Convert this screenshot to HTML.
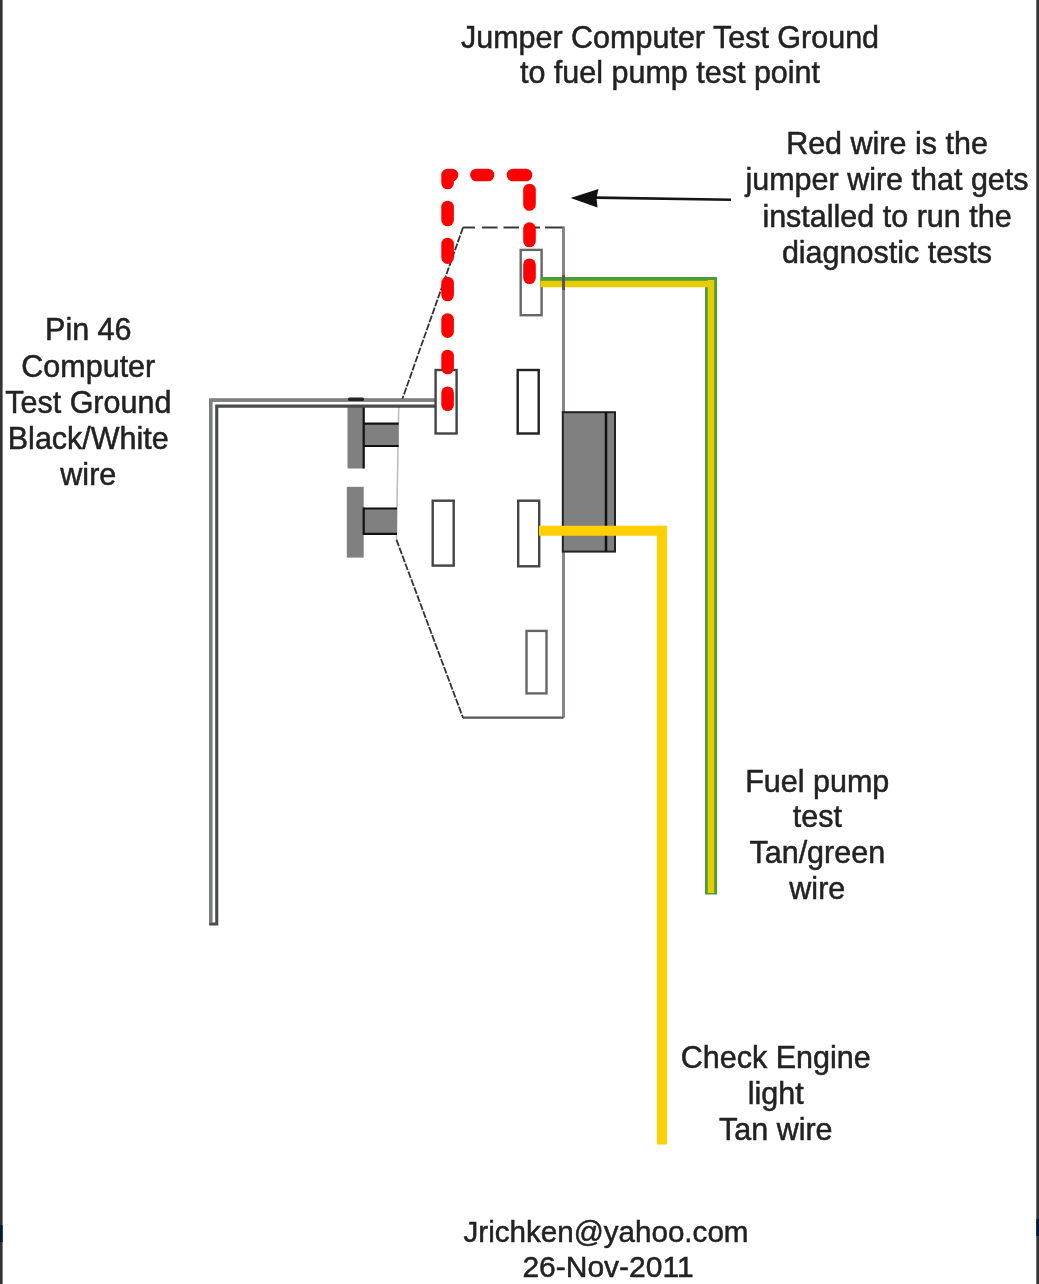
<!DOCTYPE html>
<html><head><meta charset="utf-8">
<style>
html,body{margin:0;padding:0;background:#fff;}
body{width:1039px;height:1284px;overflow:hidden;position:relative;}
svg{position:absolute;left:0;top:0;}
text{font-family:"Liberation Sans",sans-serif;font-size:30.5px;fill:#222;stroke:#222;stroke-width:0.5px;}
svg{filter:blur(0.6px);}
</style></head>
<body>
<svg width="1039" height="1284" viewBox="0 0 1039 1284">
<!-- frame borders -->
<rect x="0" y="0" width="2.6" height="1284" fill="#333"/>
<rect x="1036.3" y="0" width="2.7" height="1284" fill="#333"/>
<rect x="0" y="1225" width="2.6" height="17" fill="#001a3a"/>
<rect x="1036.3" y="1219" width="2.7" height="17" fill="#001a3a"/>


<!-- panel outline -->
<path d="M463 227.5 H564.5" fill="none" stroke="#3a3a3a" stroke-width="2" stroke-dasharray="12 7 15.5 6 15.5 6 15 5 20 100"/>
<path d="M563.5 227.5 V717.7" fill="none" stroke="#8a858a" stroke-width="3"/>
<path d="M463 717.7 H563.5" fill="none" stroke="#555" stroke-width="2.2"/>
<path d="M463 227.5 L402 400" fill="none" stroke="#333" stroke-width="1.8" stroke-dasharray="7 1.5"/>
<path d="M398.7 407 L396.4 539.6" fill="none" stroke="#bbb" stroke-width="1.5"/>
<path d="M396.4 539.6 L463 717.7" fill="none" stroke="#333" stroke-width="1.8" stroke-dasharray="7 1.5"/>

<!-- connectors -->
<g fill="#808080" stroke="#222" stroke-width="0">
<rect x="347.5" y="402" width="16.2" height="66.5"/>
<rect x="363.7" y="423.7" width="35" height="22.3"/>
<rect x="346.8" y="486.8" width="16.9" height="70.8"/>
<rect x="363.7" y="508.5" width="33.3" height="25.3"/>
</g>
<g stroke="#111" stroke-width="2.2" fill="none">
<path d="M363.7 404 V468.5"/>
<path d="M363.7 423.7 H398.7 M363.7 446 H398.7"/>
<path d="M363.7 507.5 V534.8"/>
<path d="M363.7 508.5 H397 M363.7 533.8 H397"/>
</g>

<!-- black/white wire -->
<path d="M436 403.2 H213.7 V925.5" fill="none" stroke="#4a4a4a" stroke-width="9.2"/>
<path d="M436 403 H213.8 V922.5" fill="none" stroke="#fff" stroke-width="2.8"/>
<path d="M436 400.2 H210.6 V923" fill="none" stroke="#7c807c" stroke-width="3" stroke-linejoin="round"/>

<rect x="348" y="397.5" width="16" height="3.5" rx="1.5" fill="#222"/>
<!-- dark box -->
<rect x="562.8" y="412.2" width="52.2" height="139.4" fill="#808080" stroke="#222" stroke-width="2"/>
<path d="M606 412.2 V551.6" stroke="#111" stroke-width="2.5"/>

<!-- pins -->
<g fill="#fff" stroke="#444" stroke-width="2.4">
<rect x="520.7" y="249.9" width="20.9" height="65.3" stroke="#666"/>
<rect x="435.6" y="370" width="21" height="63.5"/>
<rect x="517.7" y="370" width="21" height="63.5" stroke="#222"/>
<rect x="432.7" y="500.7" width="21" height="64.9"/>
<rect x="518.2" y="500.7" width="21" height="65.6"/>
<rect x="526.5" y="630.9" width="20" height="62.5" stroke="#666"/>
</g>

<!-- green/yellow wire -->
<path d="M711 277 V894.6" fill="none" stroke="#4a9d3a" stroke-width="12"/>
<path d="M540.5 281.7 H717" fill="none" stroke="#4a9d3a" stroke-width="9.4"/>
<path d="M540.5 284 H714 M711 280 V893" fill="none" stroke="#e6cc00" stroke-width="6.5"/>

<path d="M563.5 275 V290" fill="none" stroke="#5a555a" stroke-width="3"/>
<!-- yellow wire -->
<path d="M539 530.8 H662 V1144.6" fill="none" stroke="#ffcf00" stroke-width="10"/>

<!-- red dashed jumper -->
<g stroke="#f00" stroke-width="12.6" stroke-linecap="round" fill="none">
<path d="M447.6 392.7 V404.8"/>
<path d="M447.6 356 V368"/>
<path d="M447.6 319.5 V331.6"/>
<path d="M447.6 283 V295"/>
<path d="M447.6 244 V257.6"/>
<path d="M447.6 207 V220"/>
<path d="M447.6 183 V175 H452" stroke-linejoin="round"/>
<path d="M476.5 175 H488"/>
<path d="M513 175 H526"/>
<path d="M529.5 190 V204.5"/>
<path d="M529.5 228.6 V241"/>
<path d="M529.5 264.8 V277.7"/>
</g>

<!-- arrow -->
<path d="M596 197.6 L731 199.8" stroke="#151515" stroke-width="2.6" fill="none"/>
<path d="M570.6 197.9 L598.5 189 L596.5 198 L597.5 207.5 Z" fill="#111"/>

<!-- texts -->
<g text-anchor="middle">
<text x="670" y="47.7">Jumper Computer Test Ground</text>
<text x="670" y="83.3">to fuel pump test point</text>
<text x="887" y="154.2">Red wire is the</text>
<text x="887" y="190.4">jumper wire that gets</text>
<text x="887" y="226.6">installed to run the</text>
<text x="887" y="262.8">diagnostic tests</text>
<text x="88.3" y="340.4">Pin 46</text>
<text x="88.3" y="376.6">Computer</text>
<text x="88.3" y="412.8">Test Ground</text>
<text x="88.3" y="449">Black/White</text>
<text x="88.3" y="485.2">wire</text>
<text x="817.3" y="791.5">Fuel pump</text>
<text x="817.3" y="827.2">test</text>
<text x="817.3" y="862.9">Tan/green</text>
<text x="817.3" y="898.6">wire</text>
<text x="775.8" y="1067.8">Check Engine</text>
<text x="775.8" y="1103.7">light</text>
<text x="775.8" y="1139.6">Tan wire</text>
<text x="606" y="1241.8" style="font-size:29.6px">Jrichken@yahoo.com</text>
<text x="608" y="1276.5" style="font-size:30px">26-Nov-2011</text>
</g>
</svg>
</body></html>
